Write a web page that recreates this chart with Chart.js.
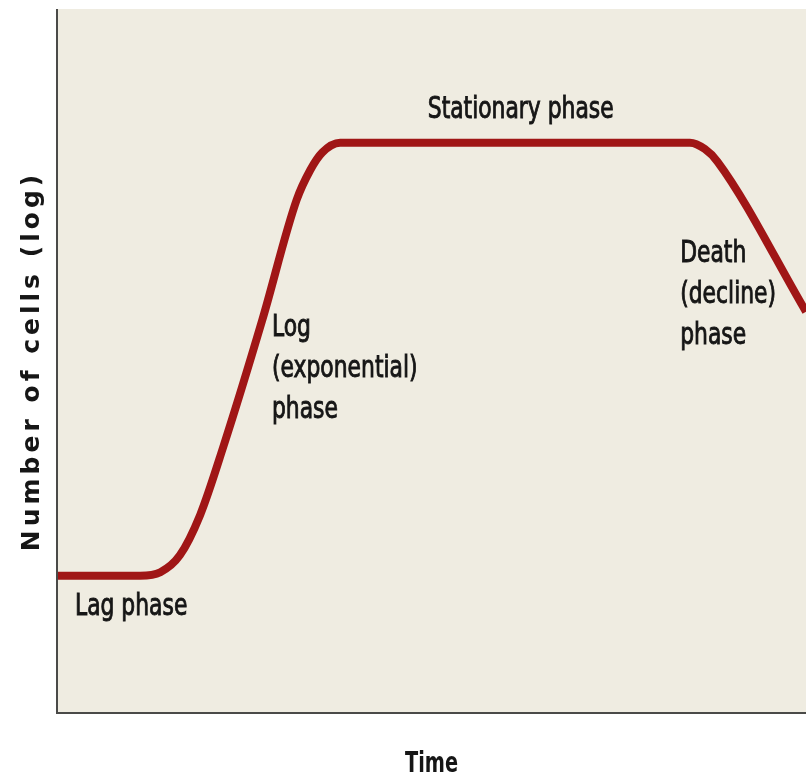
<!DOCTYPE html>
<html>
<head>
<meta charset="utf-8">
<title>Bacterial growth curve</title>
<script src="https://cdn.jsdelivr.net/npm/chart.js@4.4.1/dist/chart.umd.min.js"></script>
<style>
  html, body { margin: 0; padding: 0; background: #ffffff; }
  #growth-chart { display: block; }
</style>
</head>
<body>
<canvas id="growth-chart" width="806" height="778"></canvas>
<script>
// Datos de la curva (tiempo y número de células, escala relativa 0-100)
const timeValues = [0, 11.1, 13.8, 16.4, 19.1, 22.2, 27.4, 32.0, 33.8, 35.4, 37.8, 84.5, 86.5, 88.2, 100];
const cellValues = [19.5, 19.5, 20.0, 22.4, 28.1, 37.8, 55.8, 72.9, 77.1, 79.6, 81.0, 81.0, 80.1, 78.3, 57.0];

// Etiquetas de fases (texto, posición en unidades de datos)
const phaseTexts = [['Lag phase'], ['Log', '(exponential)', 'phase'], ['Stationary phase'], ['Death', '(decline)', 'phase']];
const phaseX = [2.4, 28.7, 49.5, 83.2];
const phaseY = [13.9, 53.6, 84.5, 64.1];

const xTitle = 'Time';
const yTitle = 'Number of cells (log)';

const lineColor = '#a01616';
const plotBg = '#efece1';
const axisColor = '#4a4a48';
const textColor = '#161616';

const points = timeValues.map((t, i) => ({ x: t, y: cellValues[i] }));

// Texto comprimido horizontalmente (fuente condensada)
function drawNarrow(ctx, text, x, y, sx, align, weight) {
  ctx.save();
  ctx.translate(x, y);
  ctx.scale(sx, 1);
  ctx.textAlign = align;
  ctx.fillText(text, 0, 0);
  if (weight) {
    ctx.strokeStyle = ctx.fillStyle;
    ctx.lineWidth = weight;
    ctx.strokeText(text, 0, 0);
  }
  ctx.restore();
}

// Fondo, ejes y textos
const decorPlugin = {
  id: 'decor',
  beforeDraw(chart) {
    const { ctx, chartArea: a } = chart;
    ctx.save();
    ctx.fillStyle = plotBg;
    ctx.fillRect(a.left, a.top, a.right - a.left, a.bottom - a.top);
    ctx.restore();
  },
  afterDraw(chart) {
    const { ctx, chartArea: a, scales } = chart;
    ctx.save();
    // ejes
    ctx.strokeStyle = axisColor;
    ctx.lineWidth = 2;
    ctx.beginPath();
    ctx.moveTo(a.left, a.top);
    ctx.lineTo(a.left, a.bottom);
    ctx.lineTo(a.right, a.bottom);
    ctx.stroke();

    // etiquetas de fases
    ctx.fillStyle = textColor;
    ctx.font = '30px "DejaVu Sans Condensed", "Liberation Sans Narrow", sans-serif';
    ctx.textBaseline = 'alphabetic';
    phaseTexts.forEach((lines, i) => {
      const px = scales.x.getPixelForValue(phaseX[i]);
      const py = scales.y.getPixelForValue(phaseY[i]);
      lines.forEach((line, j) => {
        drawNarrow(ctx, line, px, py + j * 41, 0.81, 'left', 0.9);
      });
    });

    // título eje x
    ctx.font = 'bold 29px "DejaVu Sans Condensed", "Liberation Sans Narrow", sans-serif';
    drawNarrow(ctx, xTitle, (a.left + a.right) / 2, a.bottom + 59, 0.74, 'center', 0);

    // título eje y
    ctx.translate(a.left - 25, (a.top + a.bottom) / 2);
    ctx.rotate(-Math.PI / 2);
    ctx.font = 'bold 25px "DejaVu Sans", Verdana, sans-serif';
    ctx.letterSpacing = '4px';
    ctx.textAlign = 'center';
    ctx.textBaseline = 'middle';
    ctx.fillText(yTitle, 0, 0);
    ctx.restore();
  }
};

const ctx = document.getElementById('growth-chart').getContext('2d');
new Chart(ctx, {
  type: 'line',
  data: {
    datasets: [{
      data: points,
      borderColor: lineColor,
      borderWidth: 8,
      fill: false,
      pointRadius: 0,
      cubicInterpolationMode: 'monotone',
      borderCapStyle: 'butt'
    }]
  },
  options: {
    responsive: false,
    animation: false,
    layout: { padding: { left: 57, top: 9, right: 0, bottom: 65 } },
    plugins: {
      legend: { display: false },
      tooltip: { enabled: false }
    },
    scales: {
      x: { type: 'linear', min: 0, max: 100, display: false },
      y: { type: 'linear', min: 0, max: 100, display: false }
    }
  },
  plugins: [decorPlugin]
});
</script>
</body>
</html>
